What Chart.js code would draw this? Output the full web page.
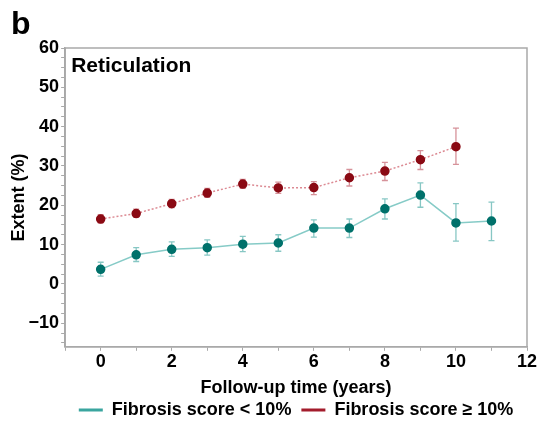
<!DOCTYPE html>
<html>
<head>
<meta charset="utf-8">
<script src="https://cdn.jsdelivr.net/npm/chart.js@4"></script>
<style>
  html, body { margin: 0; padding: 0; background: #fff; }
  #wrap { width: 539px; height: 425px; }
</style>
</head>
<body>
<div id="wrap"><canvas id="chart"></canvas></div>
<script>
// follow-up years and extent (%) per group
const yearsLow  = [0, 1, 2, 3, 4, 5, 6, 7, 8, 9, 10, 11];
const meanLow   = [3.7, 7.4, 8.8, 9.2, 10.1, 10.4, 14.2, 14.2, 19.1, 22.6, 15.5, 16.0];
const lowerLow  = [2.0, 5.7, 7.0, 7.3, 8.2, 8.3, 11.9, 11.8, 16.5, 19.5, 10.9, 11.0];
const upperLow  = [5.5, 9.2, 10.7, 11.2, 12.1, 12.5, 16.3, 16.5, 21.6, 25.7, 20.4, 20.8];

const yearsHigh = [0, 1, 2, 3, 4, 5, 6, 7, 8, 9, 10];
const meanHigh  = [16.5, 17.9, 20.4, 23.1, 25.4, 24.4, 24.5, 27.0, 28.7, 31.6, 34.9];
const lowerHigh = [15.5, 17.0, 19.4, 22.0, 24.3, 23.0, 22.7, 24.9, 26.3, 29.1, 30.4];
const upperHigh = [17.6, 19.0, 21.5, 24.3, 26.6, 25.9, 26.0, 29.1, 30.9, 33.9, 39.6];

const seriesNames = ['Fibrosis score < 10%', 'Fibrosis score \u2265 10%'];

const FONT = 'Liberation Sans, Arial, sans-serif';
const AXIS_GREY = '#a9a9a9';

const toPoints = (xs, ys) => xs.map((x, i) => ({ x, y: ys[i] }));

// error bars drawn under the markers
const errorBars = {
  id: 'errorBars',
  beforeDatasetsDraw(chart) {
    const { ctx, scales: { x, y } } = chart;
    const groups = [
      { xs: yearsLow, lo: lowerLow, hi: upperLow, color: 'rgba(95,180,176,0.75)' },
      { xs: yearsHigh, lo: lowerHigh, hi: upperHigh, color: 'rgba(200,110,120,0.75)' }
    ];
    ctx.save();
    ctx.lineWidth = 1.3;
    groups.forEach(g => {
      ctx.strokeStyle = g.color;
      g.xs.forEach((xv, i) => {
        const px = x.getPixelForValue(xv);
        const y1 = y.getPixelForValue(g.lo[i]);
        const y2 = y.getPixelForValue(g.hi[i]);
        ctx.beginPath();
        ctx.moveTo(px, y1); ctx.lineTo(px, y2);
        ctx.moveTo(px - 3, y1); ctx.lineTo(px + 3, y1);
        ctx.moveTo(px - 3, y2); ctx.lineTo(px + 3, y2);
        ctx.stroke();
      });
    });
    ctx.restore();
  }
};

// frame round the plot, panel letter and panel title
const decorations = {
  id: 'decorations',
  afterDraw(chart) {
    const { ctx, chartArea: a } = chart;
    ctx.save();
    ctx.strokeStyle = AXIS_GREY;
    ctx.lineWidth = 1.5;
    ctx.strokeRect(a.left, a.top, a.right - a.left, a.bottom - a.top);
    ctx.fillStyle = '#000';
    ctx.textBaseline = 'alphabetic';
    ctx.font = 'bold 32px ' + FONT;
    ctx.fillText('b', 11, 34);
    ctx.font = 'bold 21px ' + FONT;
    ctx.fillText('Reticulation', a.left + 6, a.top + 24);
    ctx.restore();
  }
};

new Chart(document.getElementById('chart'), {
  type: 'line',
  data: {
    datasets: [
      {
        label: seriesNames[0],
        data: toPoints(yearsLow, meanLow),
        borderColor: '#86cbc7',
        borderWidth: 1.5,
        pointBackgroundColor: '#00716b',
        pointBorderColor: '#00716b',
        pointRadius: 4,
        legendColor: '#3aa59f'
      },
      {
        label: seriesNames[1],
        data: toPoints(yearsHigh, meanHigh),
        borderColor: '#dc8a93',
        borderWidth: 1.5,
        borderDash: [2, 2],
        pointBackgroundColor: '#8b0a14',
        pointBorderColor: '#8b0a14',
        pointRadius: 4,
        legendColor: '#a31c2c'
      }
    ]
  },
  options: {
    responsive: true,
    maintainAspectRatio: false,
    animation: false,
    layout: { padding: { top: 48, right: 12, left: 8, bottom: 0 } },
    plugins: {
      tooltip: { enabled: false },
      legend: {
        position: 'bottom',
        fullSize: false,
        maxHeight: 34,
        labels: {
          color: '#000',
          font: { family: FONT, size: 18, weight: 'bold' },
          usePointStyle: true,
          pointStyleWidth: 24,
          boxHeight: 3,
          padding: 10,
          generateLabels: chart => chart.data.datasets.map((ds, i) => ({
            text: ds.label,
            datasetIndex: i,
            pointStyle: 'line',
            strokeStyle: ds.legendColor,
            fillStyle: ds.legendColor,
            lineWidth: 3,
            fontColor: '#000'
          }))
        }
      }
    },
    scales: {
      x: {
        type: 'linear',
        min: -1,
        max: 12,
        border: { color: AXIS_GREY, width: 1.5 },
        grid: { drawOnChartArea: false, color: AXIS_GREY, tickLength: 4 },
        ticks: {
          stepSize: 1,
          color: '#000',
          font: { family: FONT, size: 18, weight: 'bold' },
          padding: 0,
          maxRotation: 0,
          autoSkip: false,
          callback: v => (v >= 0 && v % 2 === 0) ? String(v) : ''
        },
        title: {
          display: true,
          text: 'Follow-up time (years)',
          color: '#000',
          font: { family: FONT, size: 18, weight: 'bold' },
          padding: { top: 5, bottom: -8 }
        }
      },
      y: {
        min: -16,
        max: 60,
        border: { color: AXIS_GREY, width: 1.5 },
        grid: { drawOnChartArea: false, color: AXIS_GREY, tickLength: 4 },
        ticks: {
          stepSize: 2.5,
          includeBounds: false,
          color: '#000',
          font: { family: FONT, size: 18, weight: 'bold' },
          padding: 2,
          autoSkip: false,
          callback: v => (v % 10 === 0) ? (v < 0 ? '\u2212' + Math.abs(v) : String(v)) : ''
        },
        title: {
          display: true,
          text: 'Extent (%)',
          color: '#000',
          font: { family: FONT, size: 18, weight: 'bold' },
          padding: { top: 0, bottom: -3 }
        }
      }
    }
  },
  plugins: [errorBars, decorations]
});
</script>
</body>
</html>
